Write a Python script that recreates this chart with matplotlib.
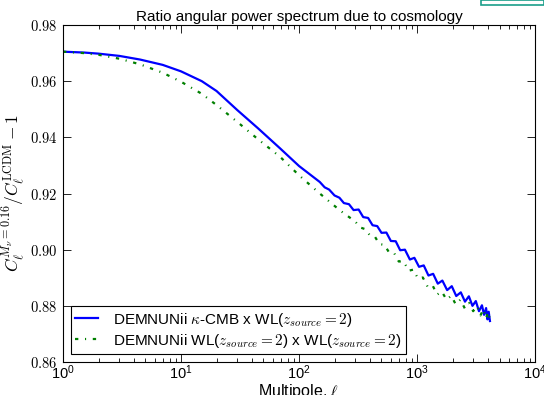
import matplotlib
matplotlib.use('Agg')
import matplotlib.pyplot as plt
from matplotlib.ticker import FuncFormatter, LogLocator
from matplotlib.patches import Rectangle

plt.rcParams['mathtext.fontset'] = 'cm'
plt.rcParams['font.family'] = ['Liberation Sans', 'DejaVu Sans']

# blue: kappa-CMB x WL
ell_kw = [1, 1.5, 2, 3, 4.5, 7, 10, 15, 20, 30, 45, 69, 100,
          150, 165, 180, 200, 220, 240, 265, 290, 320, 350, 385, 420, 460, 500,
          550, 600, 660, 720, 790, 870, 950, 1040, 1140, 1250, 1370, 1500,
          1640, 1800, 1970, 2150, 2350, 2550, 2750, 2950, 3150, 3350, 3550,
          3700, 3850, 3950, 4050, 4150]
ratio_kw = [0.9705, 0.9702, 0.9698, 0.9690, 0.9677, 0.9658, 0.9635, 0.9600, 0.9565, 0.9497, 0.9432, 0.9361, 0.9298,
            0.9241, 0.9222, 0.9214, 0.9193, 0.9185, 0.9166, 0.9162, 0.9141, 0.9143, 0.9116, 0.9113, 0.9087, 0.9084, 0.9060,
            0.9061, 0.9031, 0.9030, 0.8998, 0.9000, 0.8965, 0.8971, 0.8939, 0.8944, 0.8908, 0.8914, 0.8879,
            0.8890, 0.8856, 0.8870, 0.8835, 0.8848, 0.8815, 0.8834, 0.8800, 0.8817, 0.8781, 0.8802,
            0.8768, 0.8792, 0.8752, 0.8779, 0.8746]

# green: WL x WL
ell_ww = [1, 1.5, 2, 3, 4.5, 7, 10, 15, 20, 30, 45, 69, 100, 150, 222,
          300, 330, 365, 400, 440, 480, 530, 580, 640, 700, 770, 850, 930,
          1020, 1120, 1230, 1350, 1480, 1620, 1780, 1950, 2130, 2330, 2540,
          2760, 2990, 3220, 3450, 3650, 3850, 4000, 4150]
ratio_ww = [0.9705, 0.9700, 0.9694, 0.9680, 0.9660, 0.9630, 0.9598, 0.9555, 0.9515, 0.9455, 0.9393, 0.9331, 0.9265, 0.9200, 0.9140,
            0.9100, 0.9079, 0.9073, 0.9050, 0.9046, 0.9020, 0.9017, 0.8990, 0.8988, 0.8958, 0.8958, 0.8925, 0.8929,
            0.8897, 0.8901, 0.8868, 0.8874, 0.8840, 0.8851, 0.8822, 0.8836, 0.8805, 0.8822, 0.8791,
            0.8810, 0.8781, 0.8799, 0.8766, 0.8788, 0.8755, 0.8778, 0.8752]

yticks = [0.86, 0.88, 0.90, 0.92, 0.94, 0.96, 0.98]

fig = plt.figure(figsize=(5.44, 3.95), dpi=100)
ax = fig.add_axes([0.1158, 0.0835, 0.8677, 0.8532])

ax.plot(ell_kw, ratio_kw, color='b', lw=1.6,
        label=r'DEMNUNii $\kappa$-CMB x WL($z_{source}=2$)')
ax.plot(ell_ww, ratio_ww, color='g', lw=1.6, linestyle=(0, (1.5, 3, 0.5, 3)),
        label=r'DEMNUNii WL($z_{source}=2$) x WL($z_{source}=2$)')

ax.set_xscale('log')
ax.set_xlim(1, 1e4)
ax.set_ylim(0.86, 0.98)
ax.set_yticks(yticks)
ax.yaxis.set_major_formatter(FuncFormatter(lambda v, p: r'$%.2f$' % v))
ax.xaxis.set_major_locator(LogLocator(base=10, numticks=10))
ax.tick_params(which='both', direction='in', top=True, right=True, labelsize=10.5)
ax.tick_params(which='major', length=6, width=0.6)
ax.tick_params(which='minor', length=3, width=0.6)
ax.tick_params(axis='x', pad=1)
ax.tick_params(axis='y', pad=4)
for s in ax.spines.values():
    s.set_linewidth(0.8)

ax.set_title('Ratio angular power spectrum due to cosmology', fontsize=11, pad=3)
ax.set_xlabel(r'Multipole, $\ell$', fontsize=11.5, labelpad=0)
ax.set_ylabel(r'$C_\ell^{M_\nu=0.16}/C_\ell^{\rm LCDM}-1$', fontsize=12.5, labelpad=2)

leg = ax.legend(loc='lower left', fontsize=11, fancybox=False, framealpha=1,
                edgecolor='k', handlelength=1.5, handletextpad=1.0, borderpad=0.3,
                labelspacing=0.2, borderaxespad=0.5)
leg.get_frame().set_linewidth(0.8)

# teal strip in the top right corner of the image
fig.patches.append(Rectangle((0.885, 0.988), 0.115, 0.012, transform=fig.transFigure,
                             facecolor='white', edgecolor='#1a9e8a', lw=1.2))

fig.savefig('out.png', dpi=100)
